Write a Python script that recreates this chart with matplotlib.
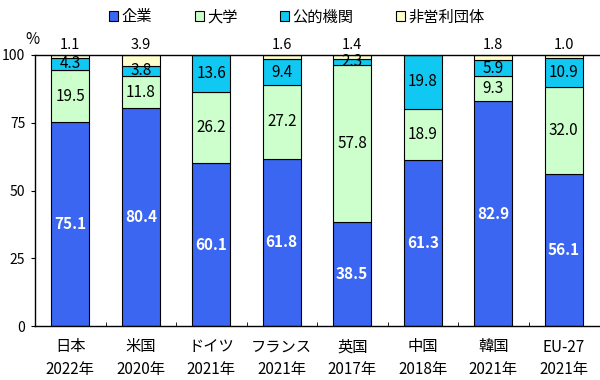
import matplotlib
matplotlib.use('Agg')

import numpy as np
import matplotlib.pyplot as plt

plt.rcParams['font.family'] = ['Noto Sans CJK JP', 'DejaVu Sans']

countries = ['日本\n2022年', '米国\n2020年', 'ドイツ\n2021年', 'フランス\n2021年',
             '英国\n2017年', '中国\n2018年', '韓国\n2021年', 'EU-27\n2021年']
series = ['企業', '大学', '公的機関', '非営利団体']
kigyo = [75.1, 80.4, 60.1, 61.8, 38.5, 61.3, 82.9, 56.1]
daigaku = [19.5, 11.8, 26.2, 27.2, 57.8, 18.9, 9.3, 32.0]
koteki = [4.3, 3.8, 13.6, 9.4, 2.3, 19.8, 5.9, 10.9]
hieiri = [1.1, 3.9, 0.0, 1.6, 1.4, 0.0, 1.8, 1.0]

colors = ['#3a66f2', '#ccffcc', '#11c8f2', '#ffffcc']

fig = plt.figure(figsize=(6, 3.8), dpi=100)
ax = fig.add_axes([35/600, 1-326/380, 564/600, 271/380])

x = np.arange(len(countries))
bottom = np.zeros(len(countries))
for i, (name, vals) in enumerate(zip(series, [kigyo, daigaku, koteki, hieiri])):
    vals = np.asarray(vals)
    ax.bar(x, vals, width=0.54, bottom=bottom, color=colors[i],
           edgecolor='black', linewidth=0.8, label=name, zorder=2)
    for xi, b, v in zip(x, bottom, vals):
        if v <= 0:
            continue
        if i == 3:
            ax.text(xi, 100 + 3.6, f'{v:.1f}', ha='center', va='center',
                    fontsize=10.5, clip_on=False)
        elif i == 0:
            ax.text(xi, b + v/2, f'{v:.1f}', ha='center', va='center',
                    fontsize=11, color='white', fontweight='bold')
        else:
            ax.text(xi, b + v/2, f'{v:.1f}', ha='center', va='center',
                    fontsize=11, color='black')
    bottom = bottom + vals

ax.set_xlim(-0.5, len(countries) - 0.5)
ax.set_ylim(0, 100)
ax.set_yticks([0, 25, 50, 75, 100])
ax.tick_params(axis='y', length=3, labelsize=10, pad=4)
ax.set_xticks(x)
ax.set_xticklabels(countries, fontsize=11, linespacing=1.45)
ax.tick_params(axis='x', length=0, pad=9)
ax.set_xticks(x[:-1] + 0.5, minor=True)
ax.tick_params(axis='x', which='minor', direction='in', length=3)
ax.spines['right'].set_visible(False)
for s in ['left', 'bottom', 'top']:
    ax.spines[s].set_linewidth(1.0)

fig.text(32/600, 1-39/380, '%', ha='center', va='center', fontsize=11)

ax.legend(loc='center', bbox_to_anchor=(297/600, 1-17/380),
          bbox_transform=fig.transFigure, ncol=4, frameon=False,
          fontsize=11, handlelength=0.6, handleheight=0.6,
          handletextpad=0.2, columnspacing=2.8)

fig.savefig('out.png', dpi=100)
